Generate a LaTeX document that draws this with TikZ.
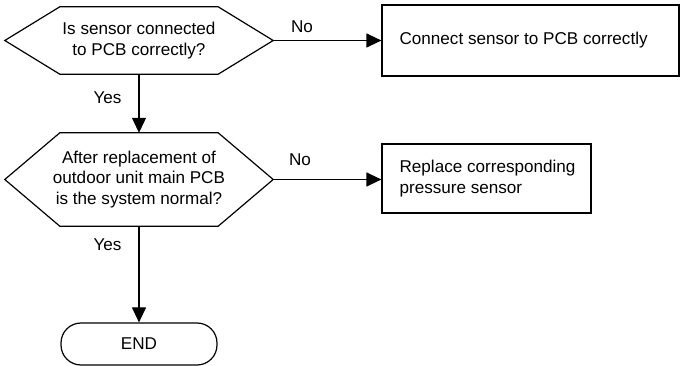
\documentclass[tikz,border=0pt]{standalone}
\usepackage{fontspec}
\setmainfont{Liberation Sans}
\usetikzlibrary{arrows.meta,calc}
\begin{document}
\begin{tikzpicture}[x=1pt,y=-1pt,
  every node/.style={font=\fontsize{17.1}{20.5}\selectfont, text=black},
  hexa/.style={inner sep=0pt, align=center},
  boxnode/.style={draw, line width=1.2pt, inner sep=0pt},
  txt/.style={inner sep=0pt, align=left, anchor=west},
  term/.style={draw, line width=1.2pt, rounded corners=20pt, inner sep=0pt, minimum width=156pt, minimum height=42pt},
  conn/.style={line width=1.2pt, -{Triangle[length=15pt,width=14pt]}},
  lbl/.style={inner sep=0pt}]
\useasboundingbox (0,0) rectangle (681,366);
% decision 1
\node[hexa, minimum width=268pt, minimum height=67pt] (d1) at (139,40.5) {Is sensor connected\\to PCB correctly?};
\draw[line width=1.2pt] (d1.west) -- ($(d1.north west)+(55,0)$) -- ($(d1.north east)+(-55,0)$) -- (d1.east) -- ($(d1.south east)+(-55,0)$) -- ($(d1.south west)+(55,0)$) -- cycle;
% decision 2
\node[hexa, minimum width=268pt, minimum height=93pt] (d2) at (139,179.5) {After replacement of\\outdoor unit main PCB\\is the system normal?};
\draw[line width=1.2pt] (d2.west) -- ($(d2.north west)+(55,0)$) -- ($(d2.north east)+(-55,0)$) -- (d2.east) -- ($(d2.south east)+(-55,0)$) -- ($(d2.south west)+(55,0)$) -- cycle;
% boxes
\node[boxnode, minimum width=297pt, minimum height=71pt] (b1) at (530.5,40.5) {};
\node[txt] (t1) at ($(b1.west)+(18,0)$) {Connect sensor to PCB correctly};
\node[boxnode, minimum width=209pt, minimum height=69pt] (b2) at (486.5,178.5) {};
\node[txt] (t2) at ($(b2.west)+(18,0)$) {Replace corresponding\\pressure sensor};
% terminal
\node[term] (e) at (139,344) {END};
% connectors
\draw[conn] (d1.east) -- (d1.east -| b1.west);
\draw[conn] (d2.east) -- (d2.east -| b2.west);
\draw[conn] (d1.south) -- (d2.north);
\draw[conn] (d2.south) -- (e.north);
% labels
\node[lbl] (n1) at (302,27) {No};
\node[lbl] (n2) at (300,159.5) {No};
\node[lbl] (y1) at (107.5,97.5) {Yes};
\node[lbl] (y2) at (107.5,245) {Yes};
\end{tikzpicture}
\end{document}
